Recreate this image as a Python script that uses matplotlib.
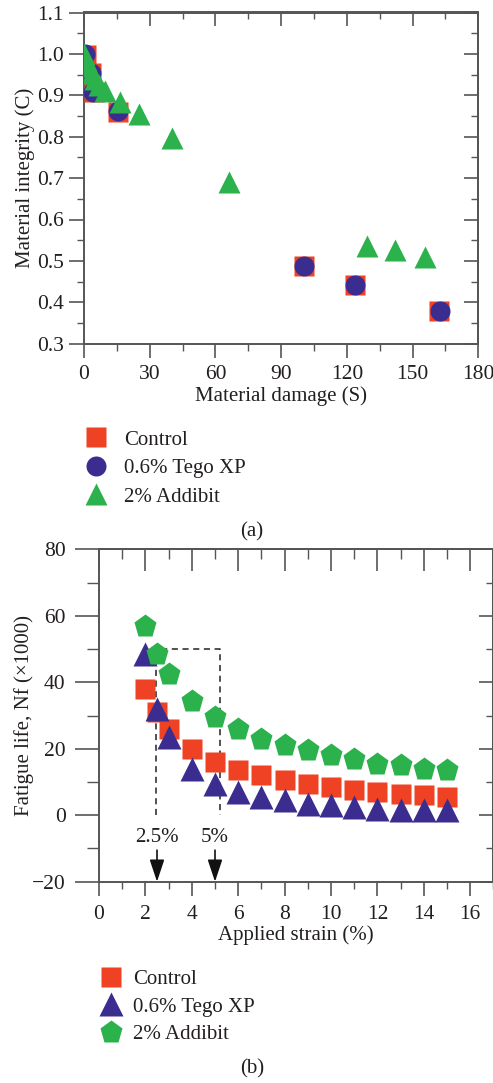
import matplotlib
matplotlib.use("Agg")
import matplotlib.pyplot as plt
from matplotlib.ticker import MultipleLocator
from matplotlib.lines import Line2D

# ---------------- data ----------------
# (a) Material integrity vs material damage
a_control_S = [0.8, 3.2, 4.5, 15.5, 100.5, 123.5, 162]
a_control_C = [0.998, 0.955, 0.907, 0.86, 0.488, 0.442, 0.38]
a_tego_S = [0.5, 3, 4, 15.5, 100.5, 123.8, 162.3]
a_tego_C = [1.0, 0.955, 0.907, 0.862, 0.487, 0.441, 0.38]
a_addibit_S = [0, 1, 2, 3.5, 5, 7, 9.5, 16.5, 25, 40, 66, 129, 142, 155.5]
a_addibit_C = [1.0, 0.985, 0.97, 0.955, 0.94, 0.925, 0.91, 0.883, 0.855, 0.797, 0.69, 0.535, 0.526, 0.51]

# (b) Fatigue life vs applied strain
b_strain = [2, 2.5, 3, 4, 5, 6, 7, 8, 9, 10, 11, 12, 13, 14, 15]
b_control = [38, 31, 26, 20, 16, 13.5, 12, 10.5, 9.5, 8.5, 7.5, 7, 6.5, 6, 5.5]
b_tego = [48.5, 32, 23.5, 14, 9.5, 7, 5.5, 4.5, 3.5, 3, 2.5, 2, 1.5, 1.5, 1.5]
b_addibit = [57, 48.5, 42.5, 34.5, 29.5, 26, 23, 21, 19.5, 18, 17, 15.5, 15, 14, 13.5]

labels = ["Control", "0.6% Tego XP", "2% Addibit"]

RED = "#ef4123"
BLUE = "#3a2d8f"
GREEN = "#2bb24c"
TXT = "#231f20"
SPINE = "#555555"
FS = 15
TFS = 15.5

plt.rcParams["font.family"] = ["Liberation Serif", "DejaVu Serif"]
plt.rcParams["font.size"] = FS
plt.rcParams["text.color"] = TXT
plt.rcParams["axes.labelcolor"] = TXT
plt.rcParams["xtick.color"] = SPINE
plt.rcParams["ytick.color"] = SPINE
plt.rcParams["xtick.labelcolor"] = TXT
plt.rcParams["ytick.labelcolor"] = TXT
plt.rcParams["axes.edgecolor"] = SPINE

W, H = 493, 1083
fig = plt.figure(figsize=(W / 100, H / 100), dpi=100)

def px_axes(left, top, right, bottom):
    return fig.add_axes([left / W, (H - bottom) / H, (right - left) / W, (bottom - top) / H])

def style_ticks(ax, xmaj, xmin, ymaj, ymin, L, B, T, R, xpad, ypad):
    ax.xaxis.set_major_locator(MultipleLocator(xmaj))
    ax.xaxis.set_minor_locator(MultipleLocator(xmin))
    ax.yaxis.set_major_locator(MultipleLocator(ymaj))
    ax.yaxis.set_minor_locator(MultipleLocator(ymin))
    ax.tick_params(axis="x", which="major", direction="out", length=B[0], width=1.2, pad=xpad, labelsize=TFS)
    ax.tick_params(axis="x", which="minor", direction="out", length=B[1], width=1.0)
    ax.tick_params(axis="y", which="major", direction="out", length=L[0], width=1.2, pad=ypad, labelsize=TFS)
    ax.tick_params(axis="y", which="minor", direction="out", length=L[1], width=1.0)
    top = ax.secondary_xaxis("top")
    top.xaxis.set_major_locator(MultipleLocator(xmaj))
    top.xaxis.set_minor_locator(MultipleLocator(xmin))
    top.tick_params(axis="x", which="major", direction="in", length=T[0], width=1.2, labeltop=False)
    top.tick_params(axis="x", which="minor", direction="in", length=T[1], width=1.0)
    right = ax.secondary_yaxis("right")
    right.yaxis.set_major_locator(MultipleLocator(ymaj))
    right.yaxis.set_minor_locator(MultipleLocator(ymin))
    right.tick_params(axis="y", which="major", direction="in", length=R[0], width=1.2, labelright=False)
    right.tick_params(axis="y", which="minor", direction="in", length=R[1], width=1.0)
    for sp in ax.spines.values():
        sp.set_linewidth(1.4)
        sp.set_color(SPINE)
    for sec in (top, right):
        for sp in sec.spines.values():
            sp.set_linewidth(1.4)
            sp.set_color(SPINE)

# ---------------- (a) ----------------
axa = px_axes(84, 12.5, 478.3, 343.7)
axa.plot(a_control_S, a_control_C, ls="none", marker="s", ms=13.7, color=RED, mec="none", zorder=3)
axa.plot(a_tego_S, a_tego_C, ls="none", marker="o", ms=14.4, color=BLUE, mec="none", zorder=4)
axa.plot(a_addibit_S, a_addibit_C, ls="none", marker="^", ms=16.5, color=GREEN, mec="none", zorder=5)
axa.set_xlim(0, 180)
axa.set_ylim(0.3, 1.1)
style_ticks(axa, 30, 15, 0.1, 0.05, L=(10.5, 5), B=(10, 5), T=(10, 5), R=(10, 5), xpad=5, ypad=4)
axa.set_yticklabels([f"{v:.1f}" for v in axa.get_yticks()])
axa.set_xlabel("Material damage (S)", fontsize=FS)
axa.set_ylabel("Material integrity (C)", fontsize=FS)
axa.xaxis.set_label_coords(0.5, -0.128)
axa.yaxis.set_label_coords(-0.125, 0.5)

ha = [Line2D([], [], ls="none", marker="s", ms=13.7, color=RED, mec="none"),
      Line2D([], [], ls="none", marker="o", ms=14.4, color=BLUE, mec="none"),
      Line2D([], [], ls="none", marker="^", ms=16.5, color=GREEN, mec="none")]
fig.legend(ha, labels, loc="upper left", bbox_to_anchor=(81.4 / W, (H - 430) / H),
           frameon=False, fontsize=FS, handlelength=1.4, handletextpad=0.64,
           labelspacing=0.43, borderpad=0, borderaxespad=0)
fig.text(252 / W, (H - 532) / H, "(a)", ha="center", va="center", fontsize=FS)

# ---------------- (b) ----------------
axb = px_axes(99, 549.3, 493.4, 881.7)
axb.plot([2.45, 2.45, 5.2, 5.2], [0, 50, 50, 0], ls=(0, (4, 3)), color="#222222", lw=1.1, zorder=2)
axb.plot(b_strain, b_control, ls="none", marker="s", ms=14, color=RED, mec="none", zorder=3)
axb.plot(b_strain, b_tego, ls="none", marker="^", ms=17.5, color=BLUE, mec="none", zorder=4)
axb.plot(b_strain, b_addibit, ls="none", marker="p", ms=17.4, color=GREEN, mec="none", zorder=5)
for xs, lab in [(2.5, "2.5%"), (5, "5%")]:
    axb.annotate("", xy=(xs, -20), xytext=(xs, -10.5),
                 arrowprops=dict(arrowstyle="-|>,head_length=0.9,head_width=0.3",
                                 color="#111111", lw=1.2, shrinkA=0, shrinkB=0))
    axb.text(xs, -6.8, lab, ha="center", va="center", fontsize=FS)
axb.set_xlim(0, 17)
axb.set_ylim(-20, 80)
style_ticks(axb, 2, 1, 20, 10, L=(17, 8.5), B=(10, 5), T=(16, 7), R=(10, 5), xpad=7, ypad=7)
axb.set_xticks(range(0, 17, 2))
axb.set_yticklabels(["\u221220" if v < 0 else f"{v:.0f}" for v in axb.get_yticks()])
axb.set_xlabel("Applied strain (%)", fontsize=FS)
axb.set_ylabel("Fatigue life, Nf (\u00d71000)", fontsize=FS)
axb.xaxis.set_label_coords(0.5, -0.132)
axb.yaxis.set_label_coords(-0.165, 0.5)

hb = [Line2D([], [], ls="none", marker="s", ms=14, color=RED, mec="none"),
      Line2D([], [], ls="none", marker="^", ms=17.5, color=BLUE, mec="none"),
      Line2D([], [], ls="none", marker="p", ms=17.4, color=GREEN, mec="none")]
fig.legend(hb, labels, loc="upper left", bbox_to_anchor=(96.4 / W, (H - 969.5) / H),
           frameon=False, fontsize=FS, handlelength=1.4, handletextpad=0.36,
           labelspacing=0.38, borderpad=0, borderaxespad=0)
fig.text(252 / W, (H - 1069) / H, "(b)", ha="center", va="center", fontsize=FS)

fig.savefig("out.png", dpi=100)
